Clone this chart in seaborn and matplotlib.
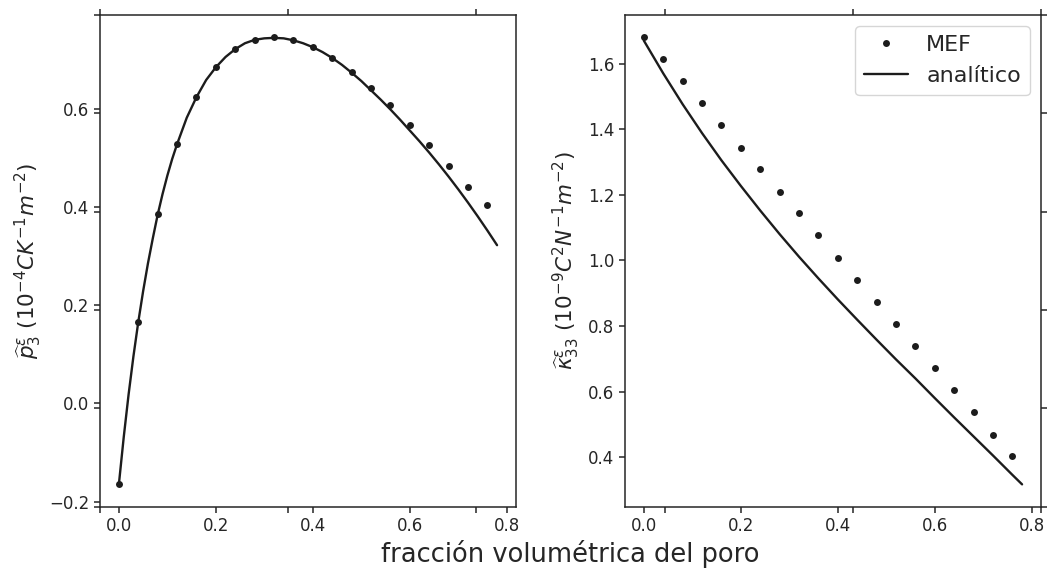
import numpy as np
import pandas as pd
import matplotlib
matplotlib.use("Agg")
import matplotlib.pyplot as plt
import seaborn as sns

# MEF-Punkte (gleiche Porenanteile fuer beide Groessen)
x_mef = [0.00, 0.04, 0.08, 0.12, 0.16, 0.20, 0.24, 0.28, 0.32, 0.36,
         0.40, 0.44, 0.48, 0.52, 0.56, 0.60, 0.64, 0.68, 0.72, 0.76]
p_mef = [-0.165, 0.166, 0.386, 0.530, 0.625, 0.686, 0.724, 0.742, 0.747, 0.741,
         0.727, 0.705, 0.676, 0.644, 0.608, 0.569, 0.527, 0.485, 0.442, 0.404]
k_mef = [1.680, 1.613, 1.547, 1.479, 1.412, 1.344, 1.278, 1.210, 1.143, 1.076,
         1.008, 0.941, 0.873, 0.807, 0.739, 0.671, 0.604, 0.537, 0.469, 0.402]

# analytische Kurven (am Anfang feiner wegen der Kruemmung)
x_ana_p = [0.00, 0.01, 0.02, 0.03, 0.04, 0.05, 0.06, 0.07, 0.08, 0.09,
           0.10, 0.11, 0.12, 0.14, 0.16, 0.18,
           0.20, 0.22, 0.24, 0.26, 0.28, 0.30, 0.32, 0.34, 0.36, 0.38,
           0.40, 0.42, 0.44, 0.46, 0.48, 0.50, 0.52, 0.54, 0.56, 0.58,
           0.60, 0.62, 0.64, 0.66, 0.68, 0.70, 0.72, 0.74, 0.76, 0.78]
p_ana = [-0.165, -0.069, 0.018, 0.096, 0.166, 0.229, 0.286, 0.337, 0.385, 0.427,
         0.465, 0.499, 0.529, 0.583, 0.625, 0.660,
         0.686, 0.707, 0.723, 0.735, 0.742, 0.745, 0.746, 0.745, 0.741, 0.735,
         0.727, 0.717, 0.705, 0.691, 0.675, 0.658, 0.639, 0.620, 0.600, 0.579,
         0.557, 0.535, 0.512, 0.488, 0.463, 0.437, 0.410, 0.382, 0.353, 0.323]

x_ana_k = [0.00, 0.04, 0.08, 0.12, 0.16, 0.20, 0.24, 0.28, 0.32, 0.36,
           0.40, 0.44, 0.48, 0.52, 0.56, 0.60, 0.64, 0.68, 0.72, 0.76, 0.78]
k_ana = [1.670, 1.570, 1.476, 1.388, 1.305, 1.227, 1.152, 1.080, 1.011, 0.945,
         0.881, 0.819, 0.758, 0.698, 0.640, 0.580, 0.521, 0.463, 0.405, 0.346, 0.317]

ylabel_p = r'$\widehat{p}^{\varepsilon}_3$ $(10^{-4}CK^{-1}m^{-2})$'
ylabel_k = r'$\widehat{\kappa}^{\varepsilon}_{33}$ $(10^{-9}C^2N^{-1}m^{-2})$'
xlabel = 'fracción volumétrica del poro'

sns.set_theme(style="ticks")
plt.rcParams['font.family'] = ['DejaVu Sans']
plt.rcParams['axes.linewidth'] = 1.1
plt.rcParams['xtick.major.size'] = 4
plt.rcParams['ytick.major.size'] = 4
plt.rcParams['xtick.major.width'] = 1.1
plt.rcParams['ytick.major.width'] = 1.1

farbe = '#1c1c1c'

fig, axes = plt.subplots(1, 2, figsize=(10.5, 5.71), dpi=100)
fig.subplots_adjust(left=0.0952, right=0.9914, bottom=0.1126, top=0.9737, wspace=0.262)

daten = [(x_ana_p, p_ana, p_mef, ylabel_p), (x_ana_k, k_ana, k_mef, ylabel_k)]
for ax, (xa, ya, ym, ylab) in zip(axes, daten):
    sns.lineplot(x=x_mef, y=ym, ax=ax, color=farbe, marker='o', linestyle='',
                 markersize=5, markeredgewidth=0, label='MEF')
    sns.lineplot(x=xa, y=ya, ax=ax, color=farbe, linewidth=1.7, label='analítico')
    ax.set_ylabel(ylab, fontsize=15.5)
    ax.tick_params(labelsize=12)
    ax.set_xticks([0.0, 0.2, 0.4, 0.6, 0.8])

axes[0].get_legend().remove()
axes[1].legend(loc='upper right', fontsize=16)

# gemeinsame x-Achsenbeschriftung ueber eine leere Achse (Ticks bleiben sichtbar wie im Original)
big = fig.add_subplot(111, frameon=False)
big.tick_params(top=True, bottom=True, left=True, right=True,
                labelbottom=False, labelleft=False, labeltop=False, labelright=False)
big.grid(False)
big.set_xlabel(xlabel, fontsize=18.5, labelpad=20)

fig.savefig('out.png', dpi=100)
